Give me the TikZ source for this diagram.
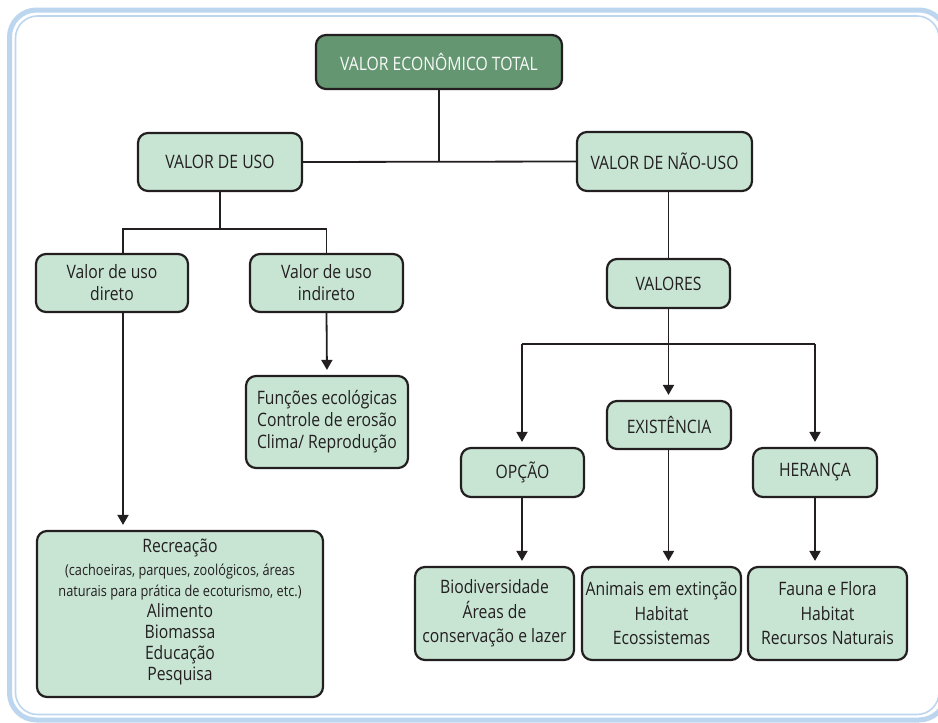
\documentclass[tikz,border=0pt]{standalone}
\usepackage{fontspec}
\setmainfont{Open Sans}[FakeStretch=0.85]
\usetikzlibrary{arrows.meta,calc}
\definecolor{boxfill}{HTML}{C8E5D4}
\definecolor{darkfill}{HTML}{659672}
\definecolor{ink}{HTML}{231F20}
\definecolor{framec}{HTML}{BDD6EF}
\tikzset{
  box/.style={draw=ink, line width=2.2pt, rounded corners=10pt, fill=boxfill,
    text=ink, align=center, inner sep=0pt, font=\fontsize{18.5}{22}\selectfont},
  topbox/.style={box, fill=darkfill, text=white!95!darkfill},
  lowbox/.style={box, font=\fontsize{18.5}{24.5}\selectfont},
  conn/.style={draw=ink, line width=1.8pt},
  arr/.style={conn, -{Triangle[length=10pt,width=11pt]}, shorten >=5pt},
}
\begin{document}
\begin{tikzpicture}[x=1pt,y=-1pt]
\useasboundingbox (0,0) rectangle (938,723);
% frame
\draw[framec, line width=5pt, rounded corners=27pt] (9.5,10) rectangle (946,720);
\draw[framec, line width=1.6pt, rounded corners=22pt] (15.5,16) rectangle (939,714.5);
% nodes
\node[topbox, minimum width=246pt, minimum height=54pt] (vet) at (439,62) {VALOR ECONÔMICO TOTAL};
\node[box, minimum width=164pt, minimum height=58pt] (uso) at (220,162) {VALOR DE USO};
\node[box, minimum width=175pt, minimum height=59pt] (nuso) at (664.5,161.5) {VALOR DE NÃO-USO};
\node[box, minimum width=152pt, minimum height=58pt] (direto) at (112,283) {Valor de uso\\direto};
\node[box, minimum width=153pt, minimum height=58pt] (indireto) at (326.5,283) {Valor de uso\\indireto};
\node[box, minimum width=162pt, minimum height=92pt] (func) at (327,422) {Funções ecológicas\\Controle de erosão\\Clima/ Reprodução};
\node[box, minimum width=286pt, minimum height=166pt, text depth=8pt] (recre) at (180,614) {Recreação\\[1pt]
  {\fontsize{15}{20}\selectfont (cachoeiras, parques, zoológicos, áreas}\\[-1pt]
  {\fontsize{15}{20}\selectfont naturais para prática de ecoturismo, etc.)}\\[-1pt]
  Alimento\\[-1pt]Biomassa\\[-1pt]Educação\\[-1pt]Pesquisa};
\node[box, minimum width=123pt, minimum height=49pt] (valores) at (668.5,283.5) {VALORES};
\node[box, minimum width=124pt, minimum height=48pt] (exist) at (669,425) {EXISTÊNCIA};
\node[box, minimum width=123pt, minimum height=49pt] (opcao) at (522.5,472.5) {OPÇÃO};
\node[box, minimum width=124pt, minimum height=49pt] (heranca) at (815,472.5) {HERANÇA};
\node[lowbox, minimum width=159pt, minimum height=93pt] (bio) at (494.5,613.5) {Biodiversidade\\Áreas de\\conservação e lazer};
\node[lowbox, minimum width=159pt, minimum height=93pt] (anim) at (661.5,613.5) {Animais em extinção\\Habitat\\Ecossistemas};
\node[lowbox, minimum width=159pt, minimum height=93pt] (fauna) at (827.5,613.5) {Fauna e Flora\\Habitat\\Recursos Naturais};
% junction coordinates
\coordinate (jl) at (123,229);
\coordinate (jr) at (326.5,229);
\coordinate (vl) at (522,344);
\coordinate (vm) at (668.5,344);
\coordinate (vr) at (815,344);
% connectors
\draw[conn] (vet.south) -- (vet.south |- uso.east);
\draw[conn] (uso.east) -- (nuso.west);
\draw[conn] (uso.south) -- (uso.south |- jl);
\draw[conn] (jl |- direto.north) -- (jl) -- (jr) -- (jr |- indireto.north);
\draw[arr] (jl |- direto.south) -- (jl |- recre.north);
\draw[arr] (indireto.south) -- (func.north);
\draw[conn] (valores.north |- nuso.south) -- (valores.north);
\draw[conn] (valores.south) -- (vm);
\draw[conn] (vl) -- (vr);
\draw[arr] (vl) -- (opcao.north -| vl);
\draw[arr] (vm) -- (exist.north -| vm);
\draw[arr] (vr) -- (heranca.north -| vr);
\draw[arr] (opcao.south -| vl) -- (bio.north -| vl);
\draw[arr] (exist.south -| vm) -- (anim.north -| vm);
\draw[arr] (heranca.south -| vr) -- (fauna.north -| vr);
\end{tikzpicture}
\end{document}
